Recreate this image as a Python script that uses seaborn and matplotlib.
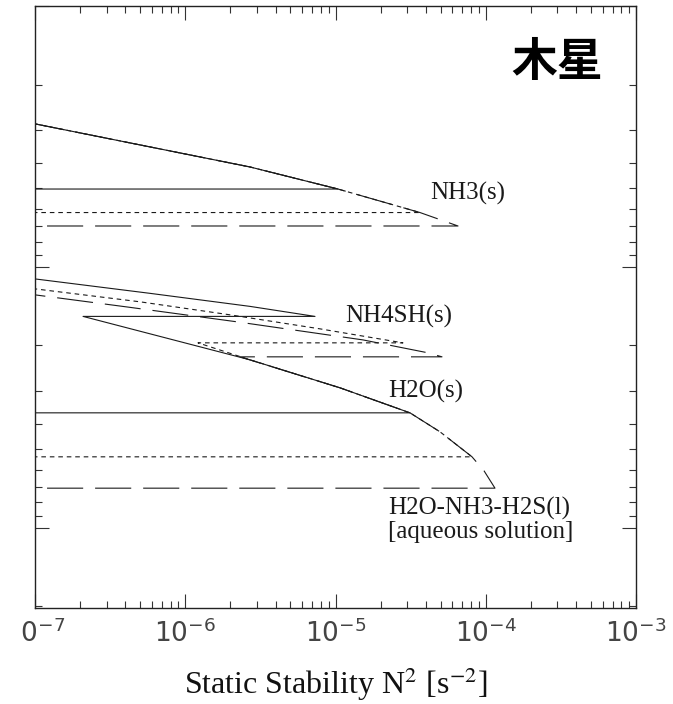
import matplotlib
matplotlib.use("Agg")
import matplotlib.pyplot as plt
import matplotlib.ticker as mticker
from matplotlib.patches import Rectangle
import pandas as pd
import seaborn as sns

# Static stability N^2 [s^-2] versus pressure [bar] for three deep-abundance cases.
# Each profile runs from the deep atmosphere upward: jump at the H2O cloud base,
# decay through the water cloud, jump at the NH4SH base, decay, jump at the NH3 base.
solid_n2 = [1e-8, 3.131e-5, 1.072e-5, 2.697e-6, 2.088e-7,
            7.305e-6, 2.697e-6, 5.83e-7, 1e-7,
            1e-8, 1.039e-5, 2.697e-6, 9.96e-7, 1e-7, 1e-8]
solid_p = [3.626, 3.626, 2.908, 2.271, 1.548,
           1.548, 1.417, 1.263, 1.112,
           0.503, 0.503, 0.414, 0.369, 0.283, 0.22]

short_n2 = [1e-8, 8.103e-5, 4.960e-5, 3.131e-5, 1.072e-5, 2.697e-6, 1.216e-6,
            2.81e-5, 7.89e-6, 1.99e-6, 5.0e-7, 1e-7,
            1e-8, 3.651e-5, 1.039e-5, 2.697e-6, 9.96e-7, 1e-7, 1e-8]
short_p = [5.346, 5.346, 4.287, 3.626, 2.908, 2.271, 1.955,
           1.955, 1.728, 1.527, 1.361, 1.214,
           0.619, 0.619, 0.503, 0.414, 0.369, 0.283, 0.22]

long_n2 = [1e-8, 1.152e-4, 9.736e-5, 8.103e-5, 4.960e-5, 3.131e-5, 1.072e-5, 2.314e-6,
           5.115e-5, 4.126e-5, 1.524e-5, 2.21e-6, 4.28e-7, 1e-7,
           1e-8, 6.537e-5, 3.651e-5, 1.039e-5, 2.697e-6, 9.96e-7, 1e-7, 1e-8]
long_p = [7.05, 7.05, 6.047, 5.346, 4.287, 3.626, 2.908, 2.212,
          2.212, 2.135, 1.905, 1.624, 1.429, 1.280,
          0.697, 0.697, 0.619, 0.503, 0.414, 0.369, 0.283, 0.22]

cloud_labels = ["NH3(s)", "NH4SH(s)", "H2O(s)", "H2O-NH3-H2S(l)", "[aqueous solution]"]
cloud_label_n2 = [4.26e-5, 1.16e-5, 2.23e-5, 2.23e-5, 2.23e-5]
cloud_label_p = [0.522, 1.55, 2.99, 8.40, 10.35]

planet = "木星"

sns.set_style("ticks")
plt.rcParams["font.family"] = ["DejaVu Sans", "Noto Sans CJK JP"]
plt.rcParams["lines.scale_dashes"] = False

frames = []
for name, n2, p in [("solid", solid_n2, solid_p),
                    ("short", short_n2, short_p),
                    ("long", long_n2, long_p)]:
    frames.append(pd.DataFrame({"n2": n2, "p": p, "case": name}))
df = pd.concat(frames, ignore_index=True)

fig = plt.figure(figsize=(6.73, 7.04), dpi=100)
ax = fig.add_axes([35 / 673, 1 - 608 / 704, 601 / 673, 602 / 704])
ax.set_xscale("log")
ax.set_yscale("log")

dash_map = {"solid": "", "short": (3.3, 2.8), "long": (26.0, 8.6)}
sns.lineplot(data=df, x="n2", y="p", style="case", dashes=dash_map,
             sort=False, estimator=None, color="#1a1a1a", linewidth=0.8,
             legend=False, ax=ax)

ax.set_xlim(1e-7, 1e-3)
ax.set_ylim(20.3, 0.1)

ax.xaxis.set_major_locator(mticker.LogLocator(base=10, numticks=10))
ax.xaxis.set_minor_locator(mticker.LogLocator(base=10, subs=range(2, 10), numticks=50))
ax.xaxis.set_minor_formatter(mticker.NullFormatter())
ax.yaxis.set_major_locator(mticker.LogLocator(base=10, numticks=10))
ax.yaxis.set_minor_locator(mticker.LogLocator(base=10, subs=range(2, 10), numticks=50))
ax.yaxis.set_major_formatter(mticker.NullFormatter())
ax.yaxis.set_minor_formatter(mticker.NullFormatter())

ax.tick_params(which="both", direction="in", top=True, right=True,
               color="#333333", width=0.8)
ax.tick_params(which="major", length=10, labelsize=19, labelcolor="#444444", pad=8)
ax.tick_params(which="minor", length=5)
for s in ax.spines.values():
    s.set_linewidth(1.0)
    s.set_color("#222222")

ax.set_xlabel("Static Stability N$^2$ [s$^{-2}$]", fontsize=23,
              family="Liberation Serif", math_fontfamily="stix",
              color="#111111")
ax.xaxis.set_label_coords(0.5, -0.095)
ax.set_ylabel("")

for txt, x, y in zip(cloud_labels, cloud_label_n2, cloud_label_p):
    ax.text(x, y, txt, ha="left", va="center", fontsize=18,
            family="Liberation Serif", color="#1a1a1a")

ax.text(0.869, 0.905, planet, transform=ax.transAxes, ha="center", va="center",
        fontsize=33, family="Noto Sans CJK JP", weight="bold", color="black")

# page margin on the left edge
fig.add_artist(Rectangle((0, 0), 21 / 673, 1, transform=fig.transFigure,
                         facecolor="white", edgecolor="none", zorder=10))

fig.savefig("out.png", dpi=100)
